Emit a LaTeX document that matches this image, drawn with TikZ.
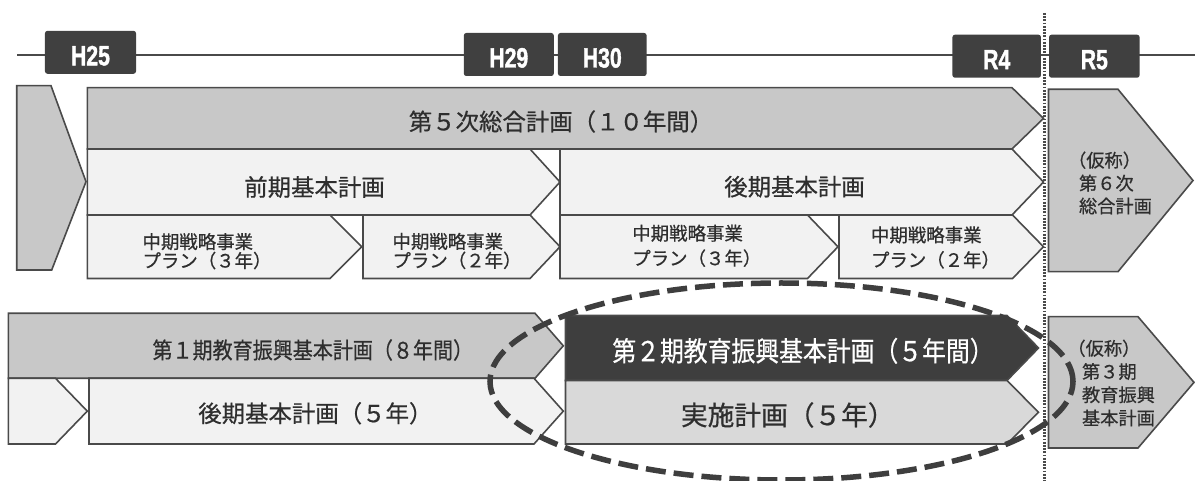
\documentclass[tikz,border=0pt]{standalone}
\usepackage{fontspec}
\usepackage{graphicx}
\newfontfamily\jp{Noto Sans CJK JP}[FakeBold=0.6]
\newfontfamily\yrfont{Liberation Sans}[FakeBold=1.6]
\definecolor{edgec}{HTML}{4A4A4A}
\definecolor{grayc}{HTML}{C8C8C8}
\definecolor{lightc}{HTML}{F2F2F2}
\definecolor{midc}{HTML}{D9D9D9}
\definecolor{darkc}{HTML}{3E3E3E}
\definecolor{yearc}{HTML}{404040}
\definecolor{textc}{HTML}{2E2E2E}
\tikzset{
  shapeline/.style={draw=edgec, line width=1.6bp, line join=miter},
  grayfill/.style={shapeline, fill=grayc},
  lightfill/.style={shapeline, fill=lightc},
  midfill/.style={shapeline, fill=midc},
  darkfill/.style={shapeline, fill=darkc},
  yearbox/.style={fill=yearc, rounded corners=2.5bp, inner sep=0, outer sep=0,
    minimum height=43bp, text height=26bp, text depth=0bp, text=white,
    font=\yrfont\bfseries\fontsize{28}{28}\selectfont},
  txt/.style={inner sep=0, outer sep=0, text=textc},
  timeline/.style={draw=edgec, line width=2bp},
  dotline/.style={draw=edgec, line width=2.2bp, dash pattern=on 1.8bp off 1.4bp},
  focus/.style={draw=darkc, line width=5.5bp, dash pattern=on 20bp off 8bp}
}
\newcommand{\chv}[6]{\path[#1] (#2,#5) -- (#3,#5) -- (#4,{(#5+#6)/2}) -- (#3,#6) -- (#2,#6) -- cycle;}
\begin{document}
\begin{tikzpicture}[x=1bp,y=-1bp]
\useasboundingbox (0,0) rectangle (1195,481);
\fill[white] (0,0) rectangle (1195,481);
% timeline
\coordinate (tl0) at (17,55);
\coordinate (tl1) at (1195,55);
\draw[timeline] (tl0) -- (tl1);
\node[yearbox, minimum width=91bp] (h25) at (90.5,52.3) {\scalebox{0.76}[1]{H25}};
\node[yearbox, minimum width=90bp] (h29) at (508.8,54.5) {\scalebox{0.76}[1]{H29}};
\node[yearbox, minimum width=88.7bp] (h30) at (602.3,54.5) {\scalebox{0.76}[1]{H30}};
\node[yearbox, minimum width=88.5bp] (r4) at (996.7,56.2) {\scalebox{0.76}[1]{R4}};
\node[yearbox, minimum width=90.6bp] (r5) at (1094.3,56.2) {\scalebox{0.76}[1]{R5}};

% upper section
\path[grayfill] (16.7,85.7) -- (51,85.7) -- (86,181.7) -- (51.7,270) -- (16.7,270) -- cycle;
\chv{grayfill}{87.3}{1012}{1043.5}{87.7}{149}
\chv{lightfill}{87.3}{530}{560}{149}{215}
\chv{lightfill}{560}{1012}{1043.5}{149}{215}
\chv{lightfill}{87.3}{330}{361.7}{215}{278.5}
\chv{lightfill}{363}{530}{560}{215}{278.5}
\chv{lightfill}{560}{807.5}{838}{215}{278.5}
\chv{lightfill}{839}{1012.5}{1043.5}{215}{278.5}
\chv{grayfill}{1048.5}{1118}{1193}{89.3}{271.7}

\node[txt, anchor=west, font=\jp\fontsize{23.5}{28}\selectfont] (t5) at (408.8,121.5) {第５次総合計画（１０年間）};
\node[txt, anchor=west, font=\jp\fontsize{23.5}{28}\selectfont] (zenki) at (244.3,187) {前期基本計画};
\node[txt, anchor=west, font=\jp\fontsize{23.5}{28}\selectfont] (kouki) at (724.3,186.7) {後期基本計画};
\node[txt, anchor=west, align=left, font=\jp\fontsize{18.5}{19}\selectfont] (c1) at (142.5,251.2) {中期戦略事業\\プラン（３年）};
\node[txt, anchor=west, align=left, font=\jp\fontsize{18.5}{19}\selectfont] (c2) at (392.5,251) {中期戦略事業\\プラン（２年）};
\node[txt, anchor=west, align=left, font=\jp\fontsize{18.5}{25}\selectfont] (c3) at (632.3,245.8) {中期戦略事業\\プラン（３年）};
\node[txt, anchor=west, align=left, font=\jp\fontsize{18.5}{25}\selectfont] (c4) at (871,247.5) {中期戦略事業\\プラン（２年）};
\node[txt, anchor=west, align=left, font=\jp\fontsize{18.3}{23}\selectfont] (p6) at (1079,183) {\hspace*{-0.6em}（仮称）\\第６次\\総合計画};

% lower section
\chv{grayfill}{8.4}{535}{563.3}{313.3}{378.3}
\chv{lightfill}{8.4}{55.5}{87.3}{378.3}{444}
\chv{lightfill}{89}{534}{563.3}{378.3}{444}
\chv{darkfill}{565.5}{1007}{1038.5}{315.5}{380.5}
\chv{midfill}{565.5}{1007}{1038.5}{380.5}{444}
\chv{grayfill}{1048.5}{1138}{1194}{316.7}{448}

\node[txt, anchor=west, font=\jp\fontsize{22.7}{26}\selectfont] (e1) at (152.5,350) {\scalebox{0.886}[1]{第１期教育振興基本計画（８年間）}};
\node[txt, anchor=west, font=\jp\fontsize{23.5}{28}\selectfont] (e1k) at (198.3,413.3) {後期基本計画（５年）};
\node[txt, anchor=west, text=white, font=\jp\fontsize{27.5}{30}\selectfont] (e2) at (612.3,350.8) {\scalebox{0.87}[1]{第２期教育振興基本計画（５年間）}};
\node[txt, anchor=west, font=\jp\fontsize{26.8}{30}\selectfont] (e2j) at (681,415) {実施計画（５年）};
\node[txt, anchor=west, align=left, font=\jp\fontsize{18.3}{23.3}\selectfont] (e3) at (1082,383) {\hspace*{-0.8em}（仮称）\\第３期\\教育振興\\基本計画};

% dotted divider and focus ellipse
\coordinate (dl0) at (1044.5,13);
\coordinate (dl1) at (1044.5,481);
\draw[dotline] (dl0) -- (dl1);
\coordinate (ec) at (781.5,381.5);
\draw[focus] (ec) ellipse [x radius=291.5bp, y radius=98.5bp];
\end{tikzpicture}
\end{document}
